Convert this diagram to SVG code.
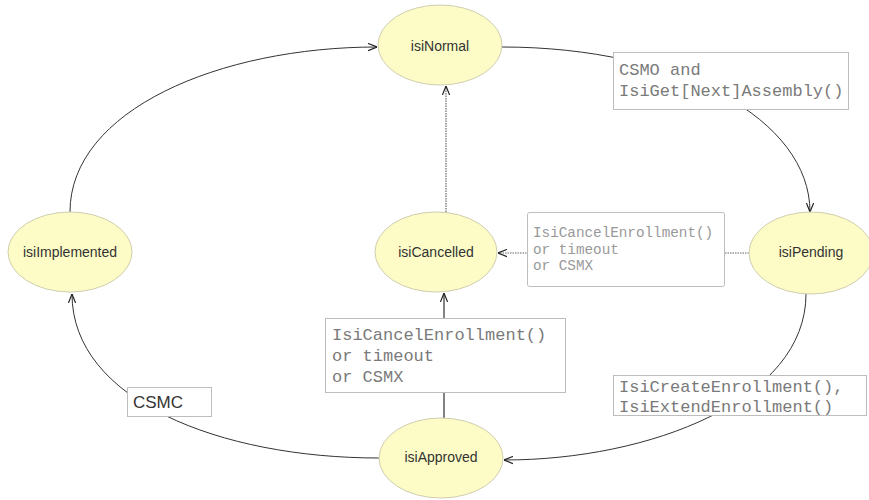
<svg xmlns="http://www.w3.org/2000/svg" width="869" height="500" viewBox="0 0 869 500">
  <style>
    .state { fill: #fdfcc6; stroke: #cfceb0; stroke-width: 1; }
    .state-label { font-family: "Liberation Sans", Arial, sans-serif; font-size: 14px; fill: #333; text-anchor: middle; }
    .edge { fill: none; stroke: #333; stroke-width: 1; }
    .edge-dot { fill: none; stroke: #666; stroke-width: 1.2; stroke-dasharray: 1.5 1; }
    .edge-solid { fill: none; stroke: #5a5a5a; stroke-width: 1.5; }
    .label-box { fill: #fff; stroke: #bdbdbd; stroke-width: 1; }
    .mono { font-family: "Liberation Mono", "Courier New", monospace; font-size: 17px; fill: #7a7a7a; }
    .mono-small { font-family: "Liberation Mono", "Courier New", monospace; font-size: 14.3px; fill: #999; }
    .sans { font-family: "Liberation Sans", Arial, sans-serif; font-size: 17px; fill: #333; }
  </style>
  <defs>
    <marker id="arrow" viewBox="0 0 10 10" refX="10" refY="5" markerWidth="9" markerHeight="9" markerUnits="userSpaceOnUse" orient="auto">
      <path d="M0,1 L10,5 L0,9" fill="none" stroke="#222" stroke-width="1.3"/>
    </marker>
  </defs>

  <!-- transitions -->
  <g id="connectors">
    <path id="e-normal-pending" class="edge" d="M502,47 C680,47 810,120 810,212" marker-end="url(#arrow)"/>
    <path id="e-pending-cancelled" class="edge-dot" d="M749,253 L498,253" marker-end="url(#arrow)"/>
    <path id="e-cancelled-normal" class="edge-dot" d="M446,212 L446,86" marker-end="url(#arrow)"/>
    <path id="e-approved-cancelled" class="edge-solid" d="M444,418 L444,293" marker-end="url(#arrow)"/>
    <path id="e-pending-approved" class="edge" d="M806,294 C806,400 650,460 504,460" marker-end="url(#arrow)"/>
    <path id="e-approved-implemented" class="edge" d="M379,458 C220,458 72,400 72,294" marker-end="url(#arrow)"/>
    <path id="e-implemented-normal" class="edge" d="M70,212 C70,110 220,47 377,47" marker-end="url(#arrow)"/>

    <!-- transition labels -->
    <g id="lbl-normal-pending">
      <rect class="label-box" x="613.5" y="52.5" width="235" height="57"/>
      <text class="mono" x="619" y="75">CSMO and</text>
      <text class="mono" x="619" y="96">IsiGet[Next]Assembly()</text>
    </g>
    <g id="lbl-pending-cancelled">
      <rect class="label-box" x="527.5" y="212.5" width="197" height="74" rx="2"/>
      <text class="mono-small" x="533" y="237">IsiCancelEnrollment()</text>
      <text class="mono-small" x="533" y="253.5">or timeout</text>
      <text class="mono-small" x="533" y="270">or CSMX</text>
    </g>
    <g id="lbl-approved-cancelled">
      <rect class="label-box" x="325.5" y="318.5" width="240" height="74"/>
      <text class="mono" x="332" y="340">IsiCancelEnrollment()</text>
      <text class="mono" x="332" y="361">or timeout</text>
      <text class="mono" x="332" y="382">or CSMX</text>
    </g>
    <g id="lbl-pending-approved">
      <rect class="label-box" x="613.5" y="375.5" width="253" height="40"/>
      <text class="mono" x="619" y="392">IsiCreateEnrollment(),</text>
      <text class="mono" x="619" y="412">IsiExtendEnrollment()</text>
    </g>
    <g id="lbl-approved-implemented">
      <rect class="label-box" x="127.5" y="387.5" width="84" height="29"/>
      <text class="sans" x="133" y="408">CSMC</text>
    </g>
  </g>

  <!-- states -->
  <g id="isiNormal">
    <ellipse class="state" cx="440" cy="45" rx="62" ry="40"/>
    <text class="state-label" x="440" y="51">isiNormal</text>
  </g>
  <g id="isiPending">
    <ellipse class="state" cx="811" cy="253" rx="62" ry="41"/>
    <text class="state-label" x="811" y="257">isiPending</text>
  </g>
  <g id="isiCancelled">
    <ellipse class="state" cx="436" cy="252" rx="61" ry="40"/>
    <text class="state-label" x="436" y="257">isiCancelled</text>
  </g>
  <g id="isiImplemented">
    <ellipse class="state" cx="70" cy="252" rx="62" ry="40"/>
    <text class="state-label" x="70" y="257">isiImplemented</text>
  </g>
  <g id="isiApproved">
    <ellipse class="state" cx="441" cy="458" rx="62" ry="40"/>
    <text class="state-label" x="441" y="462">isiApproved</text>
  </g>
</svg>
